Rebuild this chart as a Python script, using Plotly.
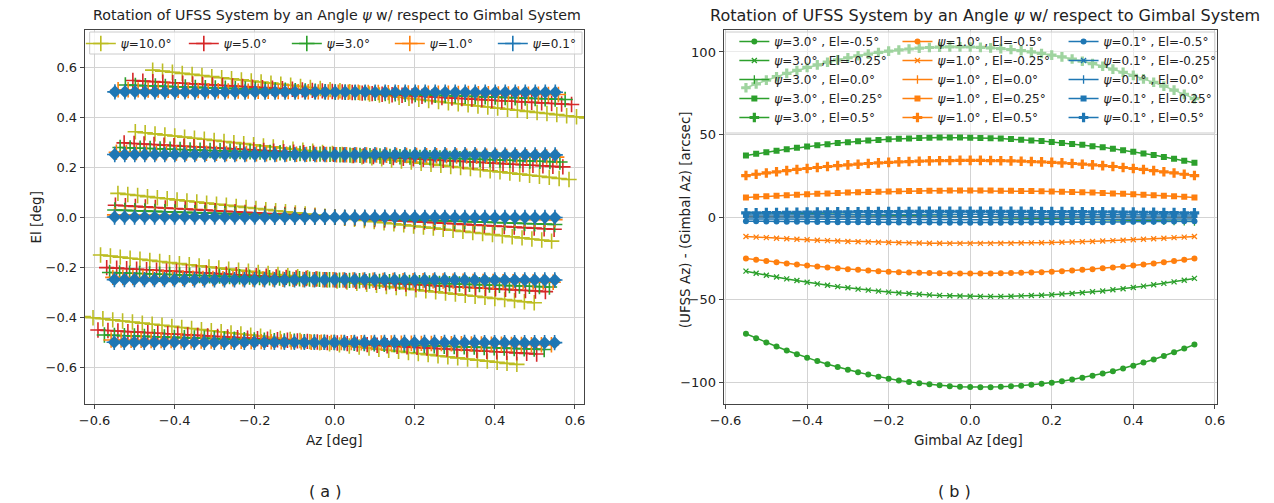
import numpy as np
import plotly.graph_objects as go

W, H = 1274, 503

gimbal_az = [-0.55, -0.525, -0.5, -0.475, -0.45, -0.425, -0.4, -0.375, -0.35, -0.325,
             -0.3, -0.275, -0.25, -0.225, -0.2, -0.175, -0.15, -0.125, -0.1, -0.075,
             -0.05, -0.025, 0.0, 0.025, 0.05, 0.075, 0.1, 0.125, 0.15, 0.175,
             0.2, 0.225, 0.25, 0.275, 0.3, 0.325, 0.35, 0.375, 0.4, 0.425,
             0.45, 0.475, 0.5, 0.525, 0.55]
el_rows = [-0.5, -0.25, 0.0, 0.25, 0.5]
psi_left = [10.0, 5.0, 3.0, 1.0, 0.1]
left_colors = ['#bcbd22', '#d62728', '#2ca02c', '#ff7f0e', '#1f77b4']

# (UFSS Az) - (Gimbal Az) [arcsec]
psi3_el_m050 = [-70.7, -73.4, -76.0, -78.5, -80.9, -83.1, -85.3, -87.3, -89.2, -90.9, -92.6, -94.1, -95.5, -96.8, -98.0,
                -99.0, -99.9, -100.8, -101.4, -102.0, -102.5, -102.8, -103.0, -103.1, -103.1, -102.9, -102.6, -102.3,
                -101.7, -101.1, -100.4, -99.5, -98.5, -97.4, -96.2, -94.8, -93.4, -91.8, -90.1, -88.2, -86.3, -84.2,
                -82.0, -79.7, -77.3]
psi3_el_m025 = [-32.8, -34.1, -35.3, -36.4, -37.5, -38.5, -39.5, -40.5, -41.3, -42.2, -42.9, -43.7, -44.3, -44.9, -45.5,
                -46.0, -46.4, -46.8, -47.2, -47.5, -47.7, -47.9, -48.0, -48.1, -48.1, -48.1, -48.0, -47.8, -47.6, -47.4,
                -47.1, -46.7, -46.3, -45.9, -45.3, -44.8, -44.1, -43.5, -42.7, -41.9, -41.1, -40.2, -39.3, -38.3, -37.2]
psi3_el_000 = [2.7, 2.6, 2.5, 2.3, 2.2, 2.1, 2.0, 1.8, 1.7, 1.6, 1.5, 1.4, 1.2, 1.1, 1.0, 0.9, 0.7, 0.6, 0.5, 0.4, 0.2,
               0.1, 0.0, -0.1, -0.2, -0.4, -0.5, -0.6, -0.7, -0.9, -1.0, -1.1, -1.2, -1.4, -1.5, -1.6, -1.7, -1.8, -2.0,
               -2.1, -2.2, -2.3, -2.5, -2.6, -2.7]
psi3_el_p025 = [37.2, 38.3, 39.3, 40.2, 41.1, 41.9, 42.7, 43.5, 44.1, 44.8, 45.3, 45.9, 46.3, 46.7, 47.1, 47.4, 47.6,
                47.8, 48.0, 48.1, 48.1, 48.1, 48.0, 47.9, 47.7, 47.5, 47.2, 46.8, 46.4, 46.0, 45.5, 44.9, 44.3, 43.7,
                42.9, 42.2, 41.3, 40.5, 39.5, 38.5, 37.5, 36.4, 35.3, 34.1, 32.8]
psi3_el_p050 = [78.3, 80.6, 82.9, 85.0, 87.0, 88.8, 90.6, 92.2, 93.8, 95.2, 96.5, 97.7, 98.7, 99.7, 100.5, 101.2, 101.8,
                102.3, 102.7, 102.9, 103.1, 103.1, 103.0, 102.8, 102.5, 102.0, 101.5, 100.8, 100.0, 99.1, 98.1, 97.0,
                95.7, 94.4, 92.9, 91.3, 89.6, 87.7, 85.8, 83.7, 81.6, 79.3, 76.9, 74.3, 71.7]

psi1_el_m050 = [-25.1, -25.9, -26.7, -27.4, -28.1, -28.8, -29.4, -30.0, -30.6, -31.1, -31.6, -32.0, -32.4, -32.8, -33.1,
                -33.4, -33.6, -33.8, -34.0, -34.1, -34.2, -34.3, -34.3, -34.3, -34.2, -34.1, -34.0, -33.8, -33.6, -33.4,
                -33.1, -32.8, -32.4, -32.0, -31.6, -31.1, -30.6, -30.0, -29.4, -28.8, -28.1, -27.4, -26.7, -25.9, -25.1]
psi1_el_m025 = [-11.8, -12.2, -12.5, -12.9, -13.2, -13.5, -13.8, -14.1, -14.3, -14.5, -14.8, -15.0, -15.1, -15.3, -15.4,
                -15.6, -15.7, -15.8, -15.9, -15.9, -16.0, -16.0, -16.0, -16.0, -16.0, -15.9, -15.9, -15.8, -15.7, -15.6,
                -15.4, -15.3, -15.1, -15.0, -14.8, -14.5, -14.3, -14.1, -13.8, -13.5, -13.2, -12.9, -12.5, -12.2, -11.8]
psi1_el_000 = [0.3, 0.29, 0.27, 0.26, 0.25, 0.23, 0.22, 0.21, 0.19, 0.18, 0.16, 0.15, 0.14, 0.12, 0.11, 0.10, 0.08,
               0.07, 0.05, 0.04, 0.03, 0.01, 0.0, -0.01, -0.03, -0.04, -0.05, -0.07, -0.08, -0.10, -0.11, -0.12, -0.14,
               -0.15, -0.16, -0.18, -0.19, -0.21, -0.22, -0.23, -0.25, -0.26, -0.27, -0.29, -0.3]
psi1_el_p025 = [11.8, 12.2, 12.5, 12.9, 13.2, 13.5, 13.8, 14.1, 14.3, 14.5, 14.8, 15.0, 15.1, 15.3, 15.4, 15.6, 15.7,
                15.8, 15.9, 15.9, 16.0, 16.0, 16.0, 16.0, 16.0, 15.9, 15.9, 15.8, 15.7, 15.6, 15.4, 15.3, 15.1, 15.0,
                14.8, 14.5, 14.3, 14.1, 13.8, 13.5, 13.2, 12.9, 12.5, 12.2, 11.8]
psi1_el_p050 = [25.1, 25.9, 26.7, 27.4, 28.1, 28.8, 29.4, 30.0, 30.6, 31.1, 31.6, 32.0, 32.4, 32.8, 33.1, 33.4, 33.6,
                33.8, 34.0, 34.1, 34.2, 34.3, 34.3, 34.3, 34.2, 34.1, 34.0, 33.8, 33.6, 33.4, 33.1, 32.8, 32.4, 32.0,
                31.6, 31.1, 30.6, 30.0, 29.4, 28.8, 28.1, 27.4, 26.7, 25.9, 25.1]

psi01_el_m050 = [-2.51, -2.59, -2.67, -2.74, -2.81, -2.88, -2.94, -3.0, -3.06, -3.11, -3.16, -3.2, -3.24, -3.28, -3.31,
                 -3.34, -3.36, -3.38, -3.4, -3.41, -3.42, -3.43, -3.43, -3.43, -3.42, -3.41, -3.4, -3.38, -3.36, -3.34,
                 -3.31, -3.28, -3.24, -3.2, -3.16, -3.11, -3.06, -3.0, -2.94, -2.88, -2.81, -2.74, -2.67, -2.59, -2.51]
psi01_el_m025 = [-1.18, -1.22, -1.25, -1.29, -1.32, -1.35, -1.38, -1.41, -1.43, -1.45, -1.48, -1.5, -1.51, -1.53, -1.54,
                 -1.56, -1.57, -1.58, -1.59, -1.59, -1.6, -1.6, -1.6, -1.6, -1.6, -1.59, -1.59, -1.58, -1.57, -1.56,
                 -1.54, -1.53, -1.51, -1.5, -1.48, -1.45, -1.43, -1.41, -1.38, -1.35, -1.32, -1.29, -1.25, -1.22, -1.18]
psi01_el_000 = [0.0] * 45
psi01_el_p025 = [1.18, 1.22, 1.25, 1.29, 1.32, 1.35, 1.38, 1.41, 1.43, 1.45, 1.48, 1.5, 1.51, 1.53, 1.54, 1.56, 1.57,
                 1.58, 1.59, 1.59, 1.6, 1.6, 1.6, 1.6, 1.6, 1.59, 1.59, 1.58, 1.57, 1.56, 1.54, 1.53, 1.51, 1.5, 1.48,
                 1.45, 1.43, 1.41, 1.38, 1.35, 1.32, 1.29, 1.25, 1.22, 1.18]
psi01_el_p050 = [2.51, 2.59, 2.67, 2.74, 2.81, 2.88, 2.94, 3.0, 3.06, 3.11, 3.16, 3.2, 3.24, 3.28, 3.31, 3.34, 3.36,
                 3.38, 3.4, 3.41, 3.42, 3.43, 3.43, 3.43, 3.42, 3.41, 3.4, 3.38, 3.36, 3.34, 3.31, 3.28, 3.24, 3.2, 3.16,
                 3.11, 3.06, 3.0, 2.94, 2.88, 2.81, 2.74, 2.67, 2.59, 2.51]

psi_right = [3.0, 1.0, 0.1]
right_colors = ['#2ca02c', '#ff7f0e', '#1f77b4']
right_series = [
    [psi3_el_m050, psi3_el_m025, psi3_el_000, psi3_el_p025, psi3_el_p050],
    [psi1_el_m050, psi1_el_m025, psi1_el_000, psi1_el_p025, psi1_el_p050],
    [psi01_el_m050, psi01_el_m025, psi01_el_000, psi01_el_p025, psi01_el_p050],
]
el_markers = [('circle', 6), ('x-thin', 5), ('line-ns', 6), ('square', 6), ('cross', 8)]

FONT = 'DejaVu Sans'
fig = go.Figure()

# ---- panel (a): rotated grid ----
az = np.array(gimbal_az)
for j, (psi, col) in enumerate(zip(psi_left, left_colors)):
    r = np.deg2rad(psi)
    for k, el in enumerate(el_rows):
        x = az * np.cos(r) + el * np.sin(r)
        y = el * np.cos(r) - az * np.sin(r)
        if psi == 0.1:
            fig.add_trace(go.Scatter(x=x, y=y, mode='markers', xaxis='x', yaxis='y', showlegend=False,
                                     marker=dict(symbol='diamond', size=10, color=col), hoverinfo='skip'))
        fig.add_trace(go.Scatter(
            x=x, y=y, mode='lines+markers', xaxis='x', yaxis='y',
            name=f'<i>ψ</i>={psi:.1f}°', legendgroup=f'L{j}', showlegend=(k == 0), legend='legend',
            line=dict(color=col, width=1.5),
            marker=dict(symbol='cross-thin', size=11, line=dict(color=col, width=1.6))))

# ---- panel (b) ----
legends = ['legend2', 'legend3', 'legend4']
for j, (psi, col) in enumerate(zip(psi_right, right_colors)):
    for k, el in enumerate(el_rows):
        sym, sz = el_markers[k]
        mk = dict(symbol=sym, size=sz, color=col)
        if sym in ('x-thin', 'line-ns'):
            mk['line'] = dict(color=col, width=1.3)
        fig.add_trace(go.Scatter(
            x=gimbal_az, y=right_series[j][k], mode='lines+markers', xaxis='x2', yaxis='y2',
            name=f'<i>ψ</i>={psi:.1f}° , El={el}°', legend=legends[j],
            line=dict(color=col, width=1.5), marker=mk))

def px(x):
    return x / W

def py(y):
    return 1 - y / H

axis_common = dict(showgrid=True, gridcolor='#d3d3d3', gridwidth=1, zeroline=False,
                   showline=True, linecolor='#444444', linewidth=1, mirror=True,
                   ticks='outside', ticklen=4, tickcolor='#444444',
                   tickfont=dict(family=FONT, size=13, color='#222222'))

fig.update_layout(
    width=W, height=H, margin=dict(l=0, r=0, t=0, b=0),
    paper_bgcolor='white', plot_bgcolor='white',
    font=dict(family=FONT, size=12, color='#222222'),
    xaxis=dict(domain=[px(72), px(580)], range=[-0.6245, 0.6225], tickvals=[-0.6, -0.4, -0.2, 0, 0.2, 0.4, 0.6],
               tickformat='.1f', anchor='y', **axis_common),
    yaxis=dict(domain=[py(404), py(30)], range=[-0.746, 0.748], tickvals=[-0.6, -0.4, -0.2, 0, 0.2, 0.4, 0.6],
               tickformat='.1f', anchor='x', **axis_common),
    xaxis2=dict(domain=[px(722), px(1224)], range=[-0.605, 0.605], tickvals=[-0.6, -0.4, -0.2, 0, 0.2, 0.4, 0.6],
                tickformat='.1f', anchor='y2', **axis_common),
    yaxis2=dict(domain=[py(404), py(30)], range=[-113.3, 113.3], tickvals=[-100, -50, 0, 50, 100],
                anchor='x2', **axis_common),
    legend=dict(orientation='h', x=px(68), y=py(29), xanchor='left', yanchor='top',
                bgcolor='rgba(0,0,0,0)', entrywidth=58, entrywidthmode='pixels',
                font=dict(family=FONT, size=12)),
    legend2=dict(x=px(733), y=py(27), xanchor='left', yanchor='top', bgcolor='rgba(0,0,0,0)',
                 font=dict(family=FONT, size=12)),
    legend3=dict(x=px(899), y=py(27), xanchor='left', yanchor='top', bgcolor='rgba(0,0,0,0)',
                 font=dict(family=FONT, size=12)),
    legend4=dict(x=px(1068), y=py(27), xanchor='left', yanchor='top', bgcolor='rgba(0,0,0,0)',
                 font=dict(family=FONT, size=12)),
    shapes=[
        dict(type='rect', xref='paper', yref='paper', x0=px(77), x1=px(578), y0=py(54), y1=py(32),
             fillcolor='rgba(255,255,255,0.75)', line=dict(color='#cccccc', width=1), layer='above'),
        dict(type='rect', xref='paper', yref='paper', x0=px(724), x1=px(1222), y0=py(133), y1=py(32),
             fillcolor='rgba(255,255,255,0.55)', line=dict(color='#cccccc', width=1), layer='above'),
    ],
)

ann = [
    dict(text='Rotation of UFSS System by an Angle <i>ψ</i> w/ respect to Gimbal System', x=px(329), y=py(15), size=14.2),
    dict(text='Rotation of UFSS System by an Angle <i>ψ</i> w/ respect to Gimbal System', x=px(988), y=py(15), size=16),
    dict(text='Az [deg]', x=px(326), y=py(440), size=13.5),
    dict(text='Gimbal Az [deg]', x=px(971), y=py(440), size=13.5),
    dict(text='El [deg]', x=px(22), y=py(217), size=13.5, angle=-90),
    dict(text='(UFSS Az) - (Gimbal Az) [arcsec]', x=px(683), y=py(220), size=13.5, angle=-90),
    dict(text='( a )', x=px(316), y=py(491), size=16),
    dict(text='( b )', x=px(957), y=py(491), size=16),
]
for a in ann:
    fig.add_annotation(text=a['text'], x=a['x'], y=a['y'], xref='paper', yref='paper',
                       xanchor='center', yanchor='middle', showarrow=False, textangle=a.get('angle', 0),
                       font=dict(family=a.get('fam', FONT), size=a['size'], color='#222222'))

fig.write_html('out.html')
